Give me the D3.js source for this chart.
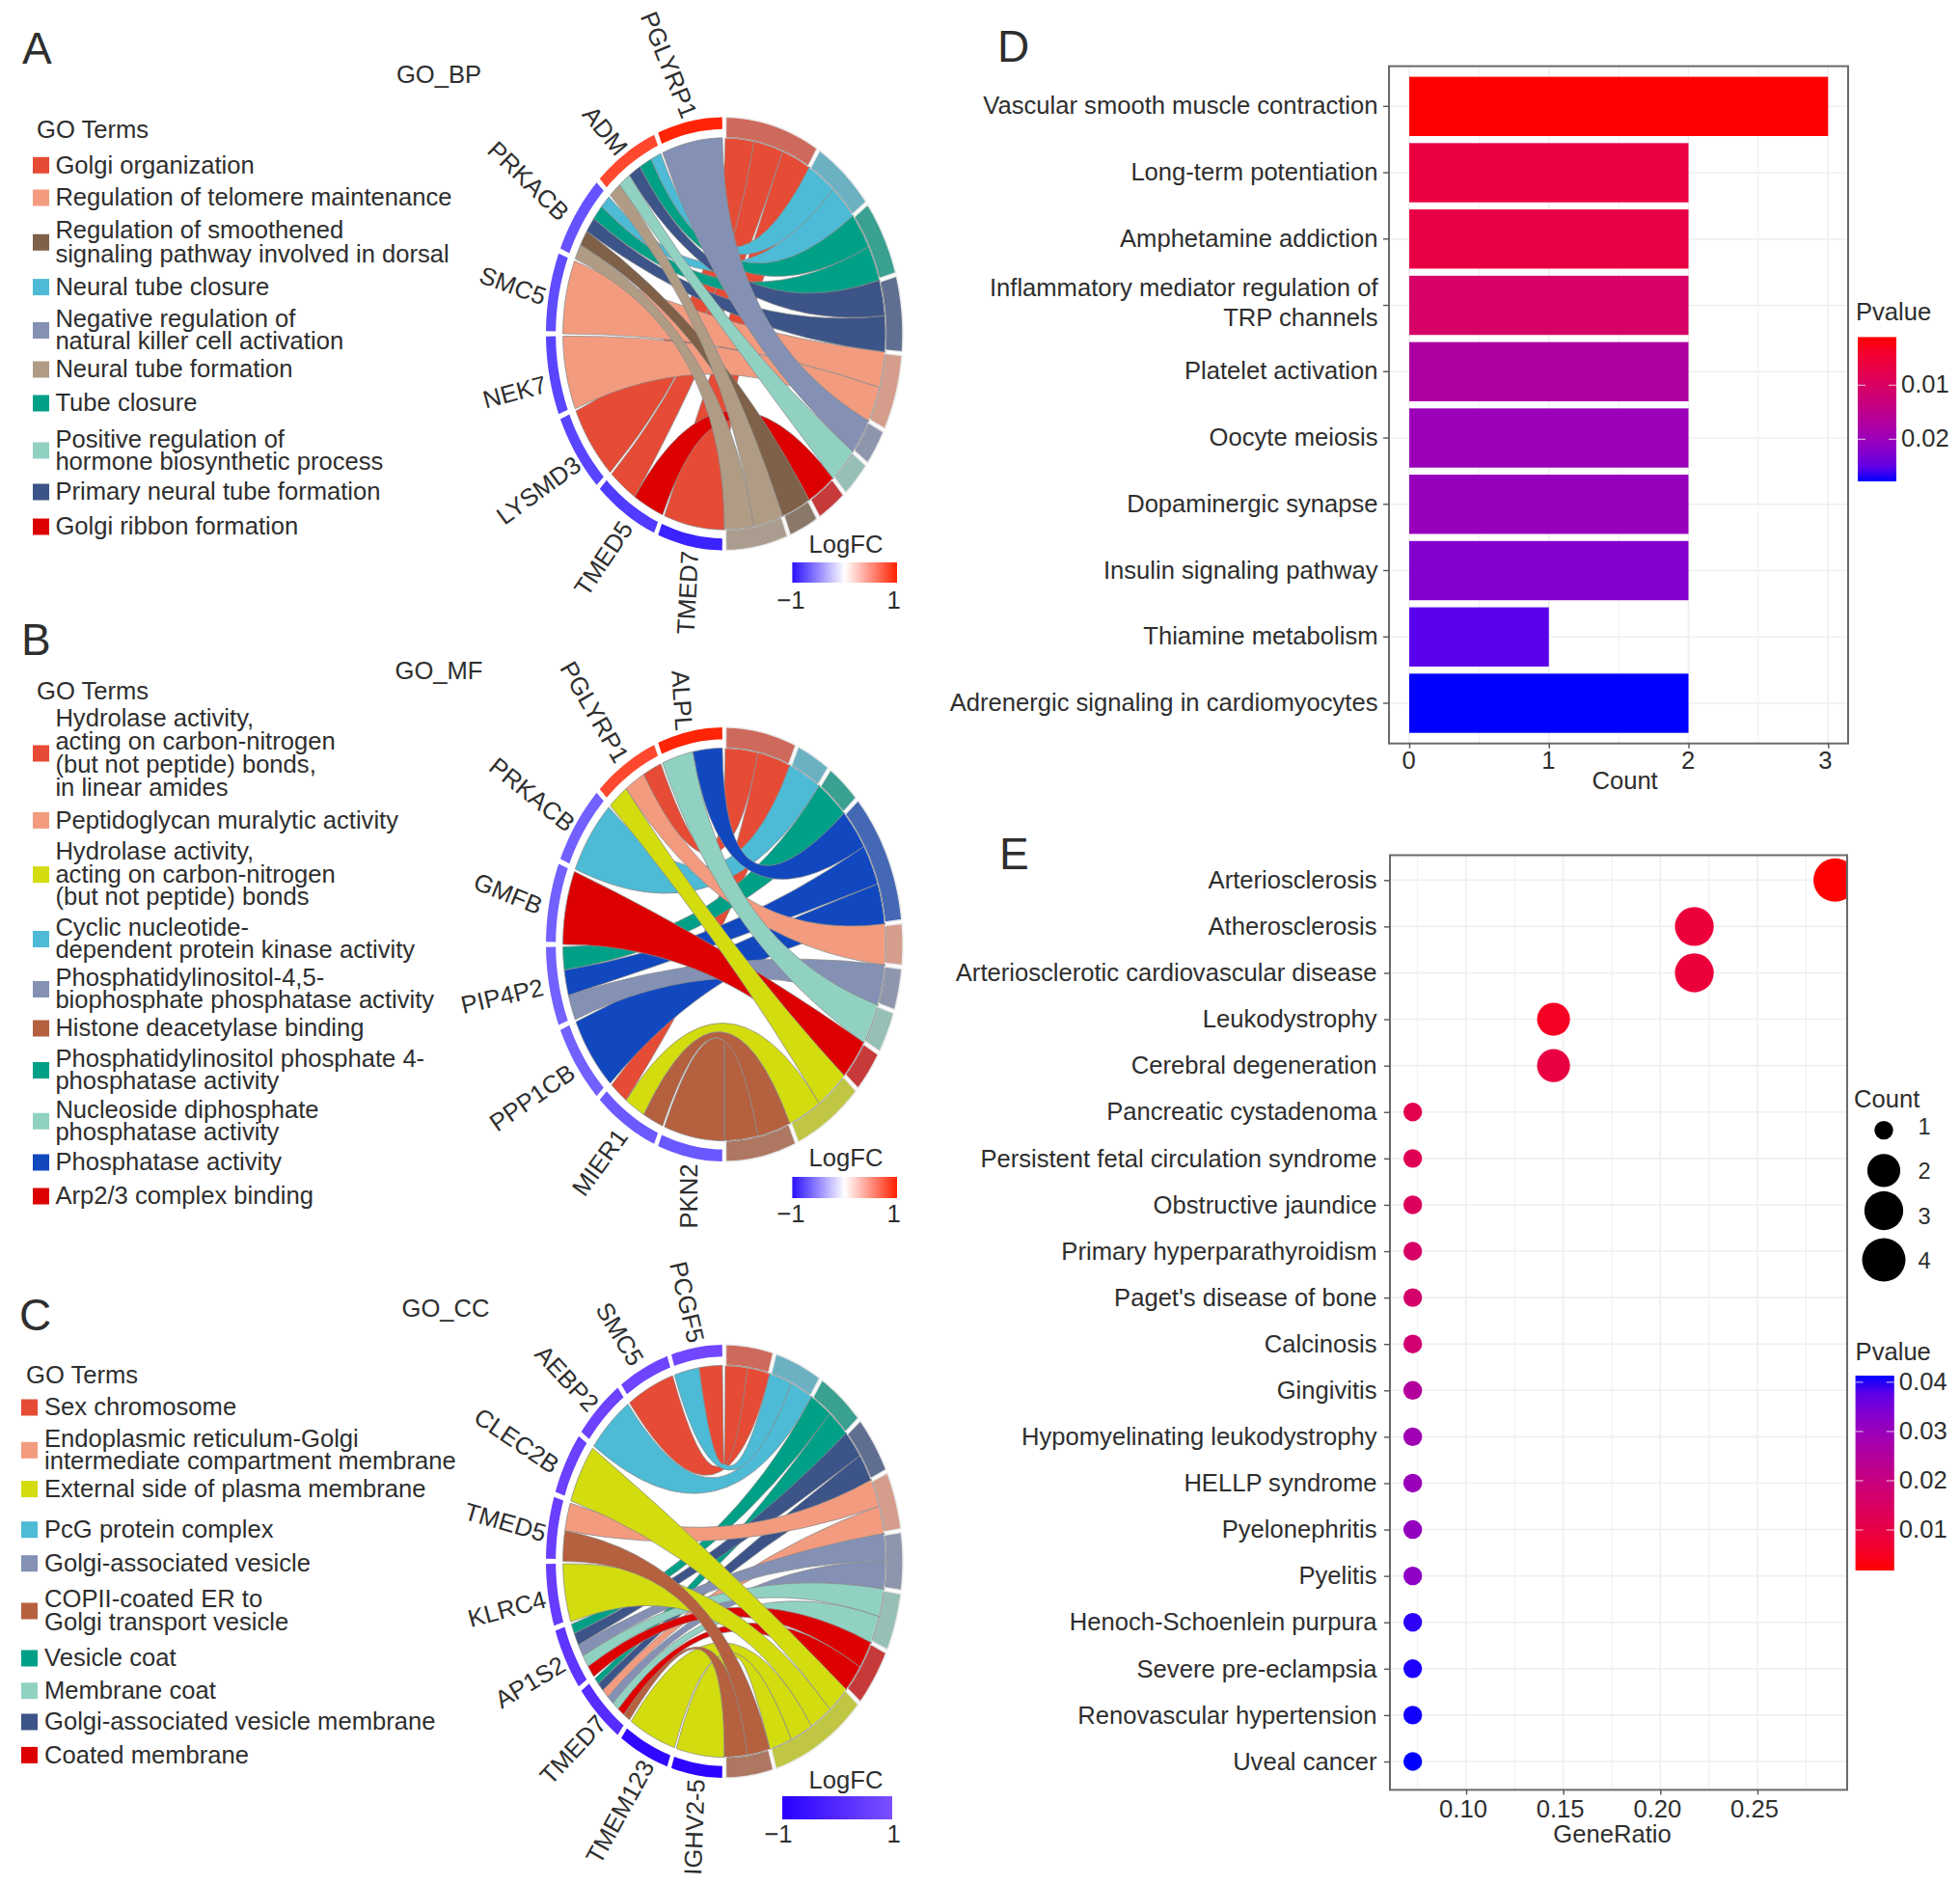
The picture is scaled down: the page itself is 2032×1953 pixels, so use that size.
<!DOCTYPE html>
<html><head><meta charset="utf-8">
<script src="https://d3js.org/d3.v7.min.js"></script>
<style>
html,body{margin:0;padding:0;background:#fff}
svg{display:block}
text{font-family:"Liberation Sans",Arial,sans-serif;fill:#2e2e2e}
</style></head><body>
<svg id="c" width="2032" height="1953" viewBox="0 0 2032 1953"></svg>
<script>
// ---------- DATA ----------
const genesA=["PGLYRP1","ADM","PRKACB","SMC5","NEK7","LYSMD3","TMED5","TMED7"];
const lfcA=[0.98,0.82,-0.72,-0.75,-0.78,-0.78,-0.82,-0.92];
const termsA=[["Golgi organization"],["Regulation of telomere maintenance"],["Regulation of smoothened","signaling pathway involved in dorsal"],["Neural tube closure"],["Negative regulation of","natural killer cell activation"],["Neural tube formation"],["Tube closure"],["Positive regulation of","hormone biosynthetic process"],["Primary neural tube formation"],["Golgi ribbon formation"]];
const geneTermsA=[[4],[3,6,8,7,5],[3,6,8,2,5],[1],[1],[0],[0,9],[0]];

const genesB=["ALPL","PGLYRP1","PRKACB","GMFB","PIP4P2","PPP1CB","MIER1","PKN2"];
const lfcB=[0.98,0.82,-0.66,-0.66,-0.66,-0.66,-0.69,-0.7];
const termsB=[["Hydrolase activity,","acting on carbon-nitrogen","(but not peptide) bonds,","in linear amides"],["Peptidoglycan muralytic activity"],["Hydrolase activity,","acting on carbon-nitrogen","(but not peptide) bonds"],["Cyclic nucleotide-","dependent protein kinase activity"],["Phosphatidylinositol-4,5-","biophosphate phosphatase activity"],["Histone deacetylase binding"],["Phosphatidylinositol phosphate 4-","phosphatase activity"],["Nucleoside diphosphate","phosphatase activity"],["Phosphatase activity"],["Arp2/3 complex binding"]];
const geneTermsB=[[8,7],[0,1,2],[3],[9],[6,8,4],[8],[0,2,5],[5]];

const genesC=["PCGF5","SMC5","AEBP2","CLEC2B","TMED5","KLRC4","AP1S2","TMED7","TMEM123","IGHV2-5"];
const lfcC=[0.75,0.7,0.65,0.6,0.55,0.5,0.3,0.1,-0.8,-0.9];
const termsC=[["Sex chromosome"],["Endoplasmic reticulum-Golgi","intermediate compartment membrane"],["External side of plasma membrane"],["PcG protein complex"],["Golgi-associated vesicle"],["COPII-coated ER to","Golgi transport vesicle"],["Vesicle coat"],["Membrane coat"],["Golgi-associated vesicle membrane"],["Coated membrane"]];
const geneTermsC=[[0,3],[0],[3],[2],[1,5],[2],[6,8,4,7,9],[6,8,1,4,7,9,5],[2],[2]];

const termOrder=[0,3,6,8,1,4,7,9,2,5]; // clockwise around the right half

const pathwaysD=["Vascular smooth muscle contraction","Long-term potentiation","Amphetamine addiction","Inflammatory mediator regulation of\nTRP channels","Platelet activation","Oocyte meiosis","Dopaminergic synapse","Insulin signaling pathway","Thiamine metabolism","Adrenergic signaling in cardiomyocytes"];
const countsD=[3,2,2,2,2,2,2,2,1,2];
const pvalsD=[0.0011,0.0062,0.0065,0.0105,0.0175,0.02,0.0205,0.0225,0.0255,0.0278];
const ticksD=[0,1,2,3];
const legendTicksD=[0.01,0.02];

const diseasesE=["Arteriosclerosis","Atherosclerosis","Arteriosclerotic cardiovascular disease","Leukodystrophy","Cerebral degeneration","Pancreatic cystadenoma","Persistent fetal circulation syndrome","Obstructive jaundice","Primary hyperparathyroidism","Paget's disease of bone","Calcinosis","Gingivitis","Hypomyelinating leukodystrophy","HELLP syndrome","Pyelonephritis","Pyelitis","Henoch-Schoenlein purpura","Severe pre-eclampsia","Renovascular hypertension","Uveal cancer"];
const ratiosE=[0.29,0.2175,0.2175,0.145,0.145,0.0725,0.0725,0.0725,0.0725,0.0725,0.0725,0.0725,0.0725,0.0725,0.0725,0.0725,0.0725,0.0725,0.0725,0.0725];
const countE=[4,3,3,2,2,1,1,1,1,1,1,1,1,1,1,1,1,1,1,1];
const pvalsE=[0.0018,0.0085,0.0085,0.005,0.0095,0.0115,0.0125,0.0135,0.0155,0.0165,0.0175,0.025,0.029,0.03,0.031,0.032,0.0405,0.041,0.0412,0.0414];
const ticksE=[0.10,0.15,0.20,0.25];
const legendCountsE=[1,2,3,4];
const legendTicksE=[0.01,0.02,0.03,0.04];

// ---------- STYLE / LAYOUT ----------
const npgA=["#E64B35","#F39B7F","#7E6148","#4DBBD5","#8491B4","#B09C85","#00A087","#91D1C2","#3C5488","#DC0000"];
const npgB=["#E64B35","#F39B7F","#D2DC0F","#4DBBD5","#8491B4","#B5603F","#00A087","#91D1C2","#1148BF","#DC0000"];
const npgC=["#E64B35","#F39B7F","#D2DC0F","#4DBBD5","#8491B4","#B5603F","#00A087","#91D1C2","#3C5488","#DC0000"];
const layoutA={cx:751,cy:346,rx:185,ry:224.5,titleText:"GO_BP",title:[455,79],letter:"A",letterXY:[23,66],goTerms:[38,136.5],swX:34,txtX:57.4,
  ys:[[171.3],[205],[239,263.5],[297.6],[331,354],[383],[418],[455.4,478.5],[510],[546]],
  labelAngles:[68,51,44,20,-15,-36,-56,-87],
  labelShift:[[0,6],[0,8],[-6,10],[3,10],[5,8],[10,4],[8,3],[4,-5]],
  lfcT:[877,566],bar:[821.4,583,108.6,21],lab:[624.5,820,926.7]};
const layoutB={cx:751,cy:979,rx:185,ry:225,titleText:"GO_MF",title:[455,697.6],letter:"B",letterXY:[22,679],goTerms:[38,718.5],swX:34,txtX:57.4,
  ys:[[745,769,793,817],[850.4],[883,907,930],[962,985],[1014,1037],[1066],[1098,1121],[1150.5,1174],[1205],[1240]],
  labelAngles:[86,60,39,22,-13,-35,-54,-90],
  labelShift:[[-6,9],[0,6],[1,10],[-1,9],[2,0],[4,1],[3,0],[3,-3]],
  lfcT:[877,1202.6],bar:[821.4,1220,108.6,22],lab:[1260,820,926.7]};
const layoutC={cx:751,cy:1618.5,rx:185,ry:224.5,titleText:"GO_CC",title:[462,1358],letter:"C",letterXY:[20,1379],goTerms:[27,1427.3],swX:22,txtX:46,
  ys:[[1459],[1491.6,1515],[1543.6],[1585.7],[1620.7],[1658,1682],[1719],[1752.7],[1785],[1819.4]],
  labelAngles:[77,59,47,34,16,-15,-31,-47,-61,-88],
  labelShift:[[-1,5],[-4,5],[0,8],[-3,11],[5,10],[6,4],[6,0],[11,-1],[10,0],[3,-6]],
  lfcT:[877,1847.6],bar:[811,1862,114,24],lab:[1903.5,807,926.7]};
const FS=25.6, rRib=0.905, rGene=0.945, TXT_DY=1.6;

const svg=d3.select("#c");
const defs=svg.append("defs");
const ringMix=(c)=>d3.interpolateRgb(c,"#a0a0a0")(0.36);
const scaleLfcStd=d3.scaleLinear().domain([-1,0,1]).range(["#2a10ff","#ffffff","#ff2000"]);
const scaleLfcC=d3.scaleLinear().domain([-1,1]).range(["#2800ff","#7c50ff"]);

function gradient(id,stops,vertical){
  const g=defs.append("linearGradient").attr("id",id).attr("x1",0).attr("y1",0).attr("x2",vertical?0:1).attr("y2",vertical?1:0);
  stops.forEach(([o,c])=>g.append("stop").attr("offset",o).attr("stop-color",c));
}
gradient("lfcStd",[[0,"#2a10ff"],[0.5,"#ffffff"],[1,"#ff2000"]]);
gradient("lfcC",[[0,"#2800ff"],[1,"#7c50ff"]]);

function chord(genes,lfc,terms,geneTerms,colors,L,lfcScale,lfcGrad){
  const g=svg.append("g");
  // letter, title, legend
  g.append("text").attr("x",L.letterXY[0]).attr("y",L.letterXY[1]).attr("font-size",46).text(L.letter);
  g.append("text").attr("x",L.title[0]).attr("y",L.title[1]).attr("text-anchor","middle").attr("dominant-baseline","middle").attr("font-size",FS).text(L.titleText);
  g.append("text").attr("x",L.goTerms[0]).attr("y",L.goTerms[1]).attr("dominant-baseline","middle").attr("font-size",FS).text("GO Terms");
  terms.forEach((lines,i)=>{
    const ys=L.ys[i], mid=d3.mean(ys);
    g.append("rect").attr("x",L.swX).attr("y",mid-8.5).attr("width",17).attr("height",17).attr("fill",colors[i]);
    const t=g.append("text").attr("font-size",FS);
    lines.forEach((s,j)=>t.append("tspan").attr("x",L.txtX).attr("y",ys[j]+TXT_DY).attr("dominant-baseline","middle").text(s));
  });
  // scales
  const X=d3.scaleLinear().domain([-1,1]).range([L.cx-L.rx,L.cx+L.rx]);
  const Y=d3.scaleLinear().domain([-1,1]).range([L.cy-L.ry,L.cy+L.ry]);
  const pt=(deg,r)=>{const a=deg*Math.PI/180;return [X(r*Math.sin(a)),Y(-r*Math.cos(a))];};
  const arcTo=(p,a0,a1,r)=>{const n=Math.max(2,Math.ceil(Math.abs(a1-a0)/1.5));for(let k=0;k<=n;k++){const q=pt(a0+(a1-a0)*k/n,r);k===0&&p._first?p.moveTo(q[0],q[1]):p.lineTo(q[0],q[1]);p._first=false;}};
  const genePos=d3.scaleBand().domain(genes).range([0,180]);
  const counts=termOrder.map(t=>d3.sum(geneTerms,gt=>gt.filter(v=>v===t).length));
  const termPos=d3.scaleLinear().domain([0,d3.sum(counts)]).range([0,180]);
  // links
  const links=[];
  const nextInTerm=new Map(); let cum=0; const termStart=new Map();
  termOrder.forEach((t,i)=>{termStart.set(t,cum);nextInTerm.set(t,0);cum+=counts[i];});
  genes.forEach((gene,gi)=>{
    const gt=geneTerms[gi], w=genePos.bandwidth()/gt.length, g0=genePos(gene);
    gt.forEach((t,k)=>{
      const idx=termStart.get(t)+nextInTerm.get(t); nextInTerm.set(t,nextInTerm.get(t)+1);
      links.push({t,a0:termPos(idx),a1:termPos(idx+1),g0:g0+w*k,g1:g0+w*(k+1),first:k===0,gi});
    });
  });
  const C=[X(0),Y(0)];
  const gapG=0.7,gapT=0.5;
  g.selectAll(".rib").data(links.slice().reverse()).join("path").attr("class","rib")
   .attr("fill",d=>colors[d.t]).attr("stroke","#8a8a8a").attr("stroke-opacity",0.75).attr("stroke-width",1)
   .attr("d",d=>{
     const p=d3.path();p._first=true;
     const ga0=-(d.g0+(d.first?gapG:0.0)), ga1=-(d.g1-0.0);
     arcTo(p,Math.max(d.a0,0.3),d.a1,rRib);
     let q=pt(ga1,rRib);p.quadraticCurveTo(C[0],C[1],q[0],q[1]);
     arcTo(p,ga1,ga0,rRib);
     q=pt(Math.max(d.a0,0.3),rRib);p.quadraticCurveTo(C[0],C[1],q[0],q[1]);
     p.closePath();return p.toString();
   });
  // term blocks
  const blocks=termOrder.map((t,i)=>({t,a0:termPos(termStart.get(t)),a1:termPos(termStart.get(t)+counts[i])}));
  g.selectAll(".blk").data(blocks).join("path").attr("class","blk")
   .attr("fill",d=>ringMix(colors[d.t])).attr("stroke","#e6e6e6").attr("stroke-width",1.4)
   .attr("d",d=>{const p=d3.path();p._first=true;arcTo(p,d.a0+gapT,d.a1-gapT,1);arcTo(p,d.a1-gapT,d.a0+gapT,rRib);p.closePath();return p.toString();});
  g.selectAll(".blkLine").data(blocks).join("path").attr("class","blkLine")
   .attr("fill","none").attr("stroke","#555").attr("stroke-opacity",0.6).attr("stroke-width",1)
   .attr("d",d=>{const p=d3.path();p._first=true;arcTo(p,d.a0+gapT+0.3,d.a1-gapT-0.3,rRib);return p.toString();});
  // gene ring
  g.selectAll(".gene").data(genes).join("path").attr("class","gene")
   .attr("fill",(d,i)=>lfcScale(lfc[i]))
   .attr("d",d=>{const a0=-(genePos(d)+gapG),a1=-(genePos(d)+genePos.bandwidth()-gapG);const p=d3.path();p._first=true;arcTo(p,a0,a1,1);arcTo(p,a1,a0,rGene);p.closePath();return p.toString();});
  // gene labels
  genes.forEach((gene,i)=>{
    const q=pt(-(genePos(gene)+genePos.bandwidth()/2),1.045), s=L.labelShift[i];
    g.append("text").attr("transform",`translate(${q[0]+s[0]},${q[1]+s[1]}) rotate(${L.labelAngles[i]})`)
     .attr("text-anchor","end").attr("dominant-baseline","middle").attr("font-size",FS).text(gene);
  });
  // LogFC key
  g.append("text").attr("x",L.lfcT[0]).attr("y",L.lfcT[1]).attr("text-anchor","middle").attr("dominant-baseline","middle").attr("font-size",FS).text("LogFC");
  g.append("rect").attr("x",L.bar[0]).attr("y",L.bar[1]).attr("width",L.bar[2]).attr("height",L.bar[3]).attr("fill",`url(#${lfcGrad})`);
  g.append("text").attr("x",L.lab[1]).attr("y",L.lab[0]).attr("text-anchor","middle").attr("dominant-baseline","middle").attr("font-size",FS).text("\u22121");
  g.append("text").attr("x",L.lab[2]).attr("y",L.lab[0]).attr("text-anchor","middle").attr("dominant-baseline","middle").attr("font-size",FS).text("1");
}
chord(genesA,lfcA,termsA,geneTermsA,npgA,layoutA,scaleLfcStd,"lfcStd");
chord(genesB,lfcB,termsB,geneTermsB,npgB,layoutB,scaleLfcStd,"lfcStd");
chord(genesC,lfcC,termsC,geneTermsC,npgC,layoutC,scaleLfcC,"lfcC");

// ---------- shared helpers ----------
const GRID="#efefef",BORDER="#6a6a6a";
function styleAxis(ax,fs){
  ax.select(".domain").remove();
  ax.selectAll("line").attr("stroke","#555").attr("stroke-width",1.4);
  ax.selectAll("text").attr("font-size",fs).attr("fill","#2e2e2e");
}
function colorKey(id,x,y,w,h,scaleP,ticks,colorOf,titleXY){
  const stops=d3.range(0,1.001,0.1).map(t=>[t,colorOf(scaleP.invert(y+h*t))]);
  gradient(id,stops,true);
  svg.append("rect").attr("x",x).attr("y",y).attr("width",w).attr("height",h).attr("fill",`url(#${id})`);
  svg.append("text").attr("x",titleXY[0]).attr("y",titleXY[1]).attr("dominant-baseline","middle").attr("font-size",FS).text("Pvalue");
  ticks.forEach(t=>{
    const yy=scaleP(t);
    svg.append("line").attr("x1",x).attr("x2",x+8).attr("y1",yy).attr("y2",yy).attr("stroke","#fff").attr("stroke-opacity",.8);
    svg.append("line").attr("x1",x+w-8).attr("x2",x+w).attr("y1",yy).attr("y2",yy).attr("stroke","#fff").attr("stroke-opacity",.8);
    svg.append("text").attr("x",x+w+5).attr("y",yy+1.2).attr("dominant-baseline","middle").attr("font-size",FS).text(t.toFixed(2));
  });
}

// ---------- PANEL D ----------
(function(){
  const P={l:1440,r:1916,t:68.6,b:770.7};
  svg.append("text").attr("x",1034).attr("y",63.5).attr("font-size",46).text("D");
  const x=d3.scaleLinear().domain([0,3]).range([1461,1895.25]);
  const y=d3.scaleBand().domain(pathwaysD).range([P.t,P.b]).paddingInner(0.107).paddingOuter(0.16);
  const col=d3.scaleLinear().domain([0.0011,0.0278]).range([0,1]);
  const colorOf=p=>d3.interpolateLab("#ff0000","#0000ff")(col(p));
  const g=svg.append("g");
  g.append("rect").attr("x",P.l).attr("y",P.t).attr("width",P.r-P.l).attr("height",P.b-P.t).attr("fill","#fff");
  d3.range(0,3.01,0.5).forEach(v=>g.append("line").attr("x1",x(v)).attr("x2",x(v)).attr("y1",P.t).attr("y2",P.b).attr("stroke",GRID).attr("stroke-width",v%1?1:1.6));
  pathwaysD.forEach(d=>g.append("line").attr("x1",P.l).attr("x2",P.r).attr("y1",y(d)+y.bandwidth()/2).attr("y2",y(d)+y.bandwidth()/2).attr("stroke",GRID).attr("stroke-width",1.6));
  g.selectAll(".bar").data(pathwaysD).join("rect").attr("class","bar")
    .attr("x",x(0)).attr("y",d=>y(d)).attr("height",y.bandwidth())
    .attr("width",(d,i)=>x(countsD[i])-x(0)).attr("fill",(d,i)=>colorOf(pvalsD[i]));
  g.append("rect").attr("x",P.l).attr("y",P.t).attr("width",P.r-P.l).attr("height",P.b-P.t).attr("fill","none").attr("stroke",BORDER).attr("stroke-width",2);
  const ax=g.append("g").attr("transform",`translate(0,${P.b})`).call(d3.axisBottom(x).tickValues(ticksD).tickFormat(d3.format("d")).tickSize(5).tickPadding(3));
  styleAxis(ax,FS);
  ax.selectAll("text").attr("dx",(d)=>d===3?-3.5:-1);
  const ay=g.append("g").attr("transform",`translate(${P.l},0)`).call(d3.axisLeft(y).tickSize(6).tickPadding(5.5));
  styleAxis(ay,FS);
  ay.selectAll("text").each(function(d){
    const parts=d.split("\n");
    if(parts.length>1){
      const t=d3.select(this).text(null);
      parts.forEach((s,i)=>t.append("tspan").attr("x",-11.5).attr("dy",i?"1.2em":"-0.36em").text(s));
    }
  });
  g.append("text").attr("x",1684.6).attr("y",811.5).attr("text-anchor","middle").attr("dominant-baseline","middle").attr("font-size",FS).text("Count");
  const keyH=149.6;
  const py=d3.scaleLinear().domain([0.0011,0.0278]).range([349.4,349.4+keyH]);
  colorKey("keyD",1926,349.4,40,keyH,py,legendTicksD,colorOf,[1924,325]);
})();

// ---------- PANEL E ----------
(function(){
  const P={l:1441,r:1915,t:886.5,b:1855.4};
  svg.append("text").attr("x",1036).attr("y",900.5).attr("font-size",46).text("E");
  const x=d3.scaleLinear().domain([0.10,0.25]).range([1520,1822]);
  const y=d3.scalePoint().domain(diseasesE).range([912.3,1826]);
  const col=d3.scaleLinear().domain([0.0018,0.0414]).range([0,1]);
  const colorOf=p=>d3.interpolateLab("#ff0000","#0000ff")(col(p));
  const rS=c=>d3.scaleLinear().domain([0,1]).range([9.7,22.5])(Math.sqrt((c-1)/3));
  defs.append("clipPath").attr("id","clipE").append("rect").attr("x",P.l).attr("y",P.t).attr("width",P.r-P.l).attr("height",P.b-P.t);
  const g=svg.append("g");
  d3.range(0.075,0.2751,0.025).forEach((v,i)=>g.append("line").attr("x1",x(v)).attr("x2",x(v)).attr("y1",P.t).attr("y2",P.b).attr("stroke",GRID).attr("stroke-width",i%2?1.6:1));
  diseasesE.forEach(d=>g.append("line").attr("x1",P.l).attr("x2",P.r).attr("y1",y(d)).attr("y2",y(d)).attr("stroke",GRID).attr("stroke-width",1.6));
  g.append("g").attr("clip-path","url(#clipE)").selectAll("circle").data(diseasesE).join("circle")
    .attr("cx",(d,i)=>x(ratiosE[i])).attr("cy",d=>y(d)).attr("r",(d,i)=>rS(countE[i])).attr("fill",(d,i)=>colorOf(pvalsE[i]));
  g.append("rect").attr("x",P.l).attr("y",P.t).attr("width",P.r-P.l).attr("height",P.b-P.t).attr("fill","none").attr("stroke",BORDER).attr("stroke-width",2);
  const ax=g.append("g").attr("transform",`translate(0,${P.b})`).call(d3.axisBottom(x).tickValues(ticksE).tickFormat(d3.format(".2f")).tickSize(5).tickPadding(5));
  styleAxis(ax,FS);
  ax.selectAll("text").attr("dx",-3.5);
  const ay=g.append("g").attr("transform",`translate(${P.l},0)`).call(d3.axisLeft(y).tickSize(6).tickPadding(7.5));
  styleAxis(ay,FS);
  g.append("text").attr("x",1671.5).attr("y",1903.5).attr("text-anchor","middle").attr("dominant-baseline","middle").attr("font-size",FS).text("GeneRatio");
  // size key
  svg.append("text").attr("x",1922).attr("y",1141.5).attr("dominant-baseline","middle").attr("font-size",FS).text("Count");
  const ky=d3.scaleLinear().domain([1,2,3,4]).range([1171.6,1213.4,1255,1306]);
  const kl=d3.scaleLinear().domain([1,2,3,4]).range([1170,1216,1262.5,1309]);
  legendCountsE.forEach(c=>{
    svg.append("circle").attr("cx",1953).attr("cy",ky(c)).attr("r",rS(c)).attr("fill","#000");
    svg.append("text").attr("x",1995).attr("y",kl(c)).attr("text-anchor","middle").attr("dominant-baseline","middle").attr("font-size",FS-2).text(c);
  });
  const py=d3.scaleLinear().domain([0.04,0.01]).range([1432.9,1586]);
  colorKey("keyE",1923.6,1426,40.2,202,py,legendTicksE,colorOf,[1923.6,1403.5]);
})();
</script></body></html>
